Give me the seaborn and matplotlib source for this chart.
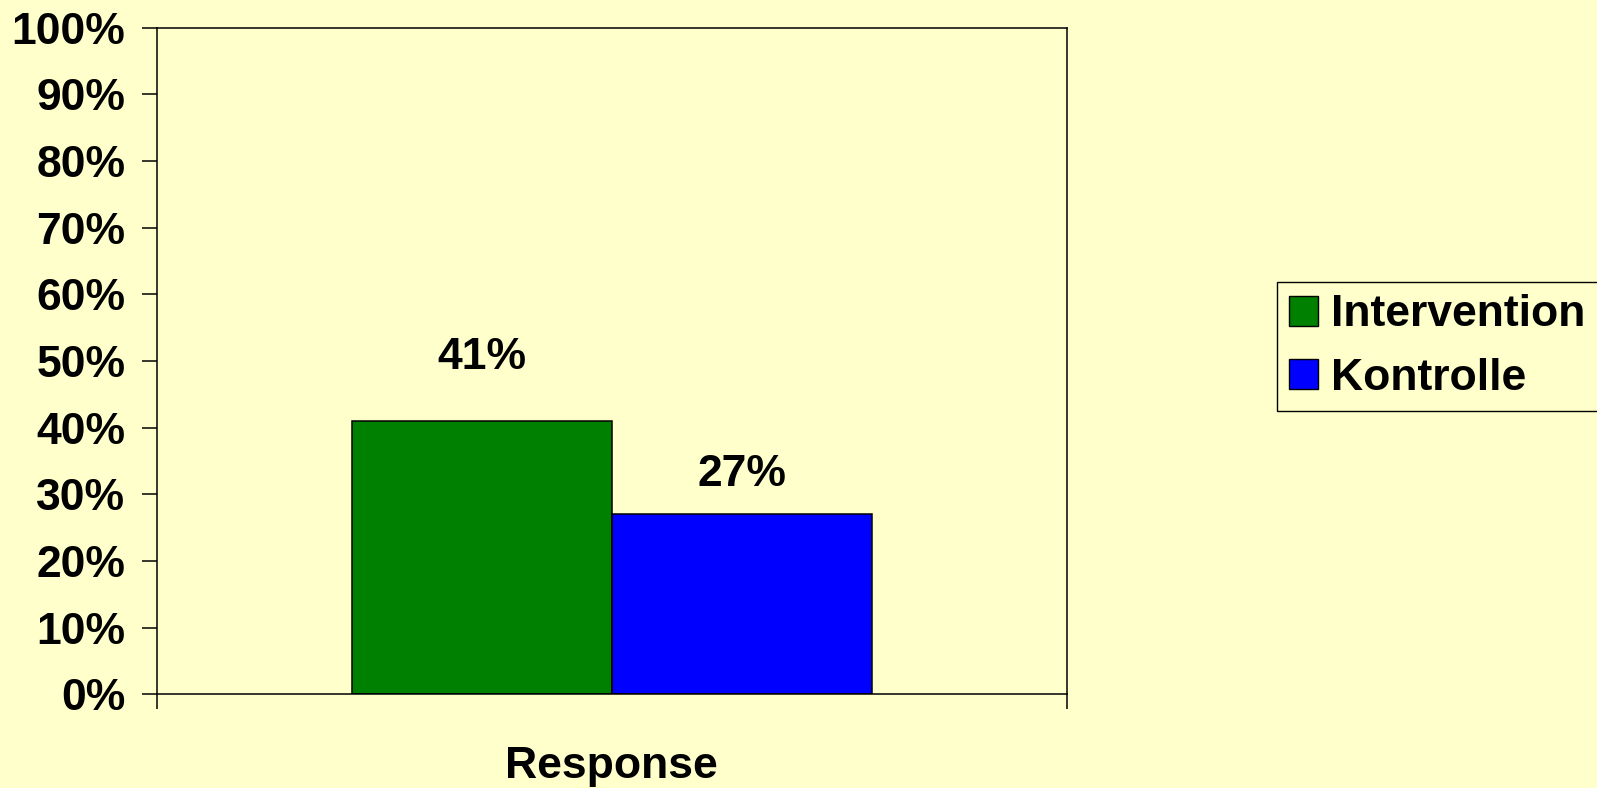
import matplotlib
matplotlib.use("Agg")
import matplotlib.pyplot as plt
from matplotlib.ticker import FixedLocator
import pandas as pd
import seaborn as sns

# Data
categories = ["Response"]
groups = ["Intervention", "Kontrolle"]
values = [41, 27]  # percent
colors = ["#008000", "#0000FF"]
ytick_values = list(range(0, 101, 10))
ytick_labels = [f"{v}%" for v in ytick_values]

df = pd.DataFrame({
    "Kategorie": categories * len(groups),
    "Gruppe": groups,
    "Wert": values,
})

bg = "#FFFFCC"
sns.set_theme(style="white")
plt.rcParams["font.family"] = ["Liberation Sans", "DejaVu Sans"]
plt.rcParams["font.weight"] = "bold"
plt.rcParams["text.color"] = "black"
plt.rcParams["xtick.color"] = "black"
plt.rcParams["ytick.color"] = "black"
plt.rcParams["xtick.labelcolor"] = "black"
plt.rcParams["ytick.labelcolor"] = "black"

fig = plt.figure(figsize=(15.97, 7.88), dpi=100, facecolor=bg)
ax = fig.add_axes([0.0983, 0.1189, 0.5696, 0.8462])
ax.set_facecolor(bg)

sns.barplot(data=df, x="Kategorie", y="Wert", hue="Gruppe", palette=colors,
            width=0.572, gap=0, edgecolor="black", linewidth=1.1,
            saturation=1, ax=ax)

fs = 32
label_pads = [31, 14]
for cont, v, p in zip(ax.containers, values, label_pads):
    ax.bar_label(cont, labels=[f"{v}%"], padding=p, fontsize=fs,
                 fontweight="bold", color="black")

ax.set_xlim(-0.5, 0.5)
ax.set_ylim(0, 100)
ax.set_yticks(ytick_values)
ax.set_yticklabels(ytick_labels, fontsize=fs, fontweight="bold", color="black")
ax.set_xlabel("")
ax.set_ylabel("")
ax.tick_params(axis="y", which="major", direction="out", length=10.8,
               width=1.1, color="black", pad=12, left=True)
ax.tick_params(axis="x", which="major", length=0, pad=37, labelsize=fs,
               labelcolor="black")
for t in ax.get_xticklabels():
    t.set_fontweight("bold")
ax.xaxis.set_minor_locator(FixedLocator([-0.5, 0.5]))
ax.tick_params(axis="x", which="minor", direction="out", length=10.8,
               width=1.1, color="black", bottom=True)

for s in ax.spines.values():
    s.set_visible(True)
    s.set_color("black")
    s.set_linewidth(1.1)

handles, labels = ax.get_legend_handles_labels()
if ax.get_legend() is not None:
    ax.get_legend().remove()
for h, c in zip(handles, colors):
    h.set_facecolor(c)
    h.set_edgecolor("black")
    h.set_linewidth(1.0)
leg = fig.legend(handles, labels, loc="upper left",
                 bbox_to_anchor=(1276.7 / 1597, 1 - 282 / 788),
                 frameon=True, fancybox=False, framealpha=1,
                 facecolor=bg, edgecolor="black",
                 prop={"size": fs, "weight": "bold"},
                 handlelength=0.65, handleheight=0.65,
                 handletextpad=0.3, borderpad=0.28, labelspacing=0.5,
                 borderaxespad=0)
leg.get_frame().set_linewidth(1.0)
for t in leg.get_texts():
    t.set_color("black")

fig.savefig("out.png", dpi=100, facecolor=bg)
